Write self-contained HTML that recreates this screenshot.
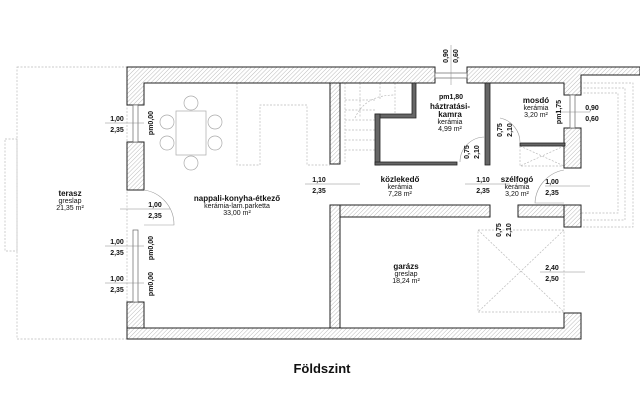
<!DOCTYPE html>
<html><head><meta charset="utf-8"><style>
body{margin:0;background:#fff}
svg{display:block}
text{font-family:"Liberation Sans",sans-serif;fill:#111}
.b{font-weight:bold;font-size:8px}
.s{font-size:7px}
.d{font-size:7px;font-weight:bold}
</style></head><body>
<svg width="640" height="407" viewBox="0 0 640 407" xmlns="http://www.w3.org/2000/svg">
<defs>
<pattern id="h" width="3" height="3" patternUnits="userSpaceOnUse" patternTransform="rotate(45)">
<rect width="3" height="3" fill="#fff"/><line x1="0" y1="0" x2="0" y2="3" stroke="#aaa" stroke-width="0.8"/>
</pattern>
</defs>
<!-- terrace dashed -->
<g fill="none" stroke="#bbb" stroke-width="0.7" stroke-dasharray="2,1.5">
<rect x="17" y="67" width="110" height="272"/>
<rect x="5" y="139" width="12" height="112"/>
<polyline points="580,83 633,83 633,227 580,227"/>
<polyline points="580,88 625,88 625,220 580,220"/>
<polyline points="580,93 618,93 618,213 580,213"/>
<rect x="566" y="143" width="0" height="0"/>
<!-- kitchen counter -->
<polyline points="237,83 237,165 260,165 260,105 307,105 307,165 330,165"/>
<!-- garage door swing -->
<rect x="478" y="230" width="86" height="82"/>
<line x1="478" y1="230" x2="564" y2="312"/><line x1="564" y1="230" x2="478" y2="312"/>
<!-- szélfogó cabinet -->
<rect x="520" y="146" width="44" height="20"/>
<line x1="520" y1="146" x2="564" y2="166"/><line x1="564" y1="146" x2="520" y2="166"/>
<!-- stairs -->
<path d="M345,83 L345,162 M345,100 L375,100 M345,110 L375,110 M345,120 L375,120 M345,130 L375,130 M345,140 L375,140 M345,150 L375,150 M360,83 L360,118 M395,83 L395,118 M380,83 L380,100"/>
<path d="M355,118 Q365,95 395,95" />
</g>
<!-- walls (hatched) -->
<g fill="url(#h)" stroke="#222" stroke-width="1">
<!-- top main -->
<path d="M127,67 L435,67 L435,83 L144,83 L144,105 L127,105 Z"/>
<path d="M467,67 L640,67 L640,75 L581,75 L581,95 L564,95 L564,83 L467,83 Z"/>
<!-- left wall -->
<rect x="127" y="142" width="17" height="48"/>
<rect x="127" y="302" width="17" height="37"/>
<!-- bottom -->
<path d="M127,328 L564,328 L564,313 L581,313 L581,339 L127,339 Z"/>
<!-- right wall -->
<rect x="564" y="128" width="17" height="40"/>
<rect x="564" y="205" width="17" height="22"/>
<!-- partition -->
<rect x="330" y="83" width="10" height="81"/>
<rect x="330" y="205" width="10" height="123"/>
<rect x="340" y="205" width="150" height="12"/>
<rect x="518" y="205" width="46" height="12"/>
</g>
<!-- window frames -->
<g fill="#fff" stroke="#666" stroke-width="0.7">
<rect x="133" y="105" width="5" height="37"/>
<rect x="133" y="230" width="5" height="72"/>
<rect x="435" y="73" width="32" height="5"/>
<rect x="570" y="95" width="5" height="33"/>
</g>
<!-- thin interior walls -->
<g fill="#555" stroke="#222" stroke-width="0.8">
<path d="M375,118 L416,118 L416,83 L412,83 L412,114 L375,114 Z" fill="#666"/>
<rect x="375" y="114" width="5" height="51" fill="#666"/>
<rect x="375" y="162" width="82" height="3" fill="#666"/>
<rect x="485" y="83" width="5" height="82" fill="#666"/>
<rect x="520" y="143" width="45" height="3" fill="#666"/>
</g>
<!-- door arcs -->
<g fill="none" stroke="#999" stroke-width="0.6">
<path d="M144,190 A35,35 0 0 1 174,225 L144,225"/>
<path d="M564,170 A35,35 0 0 0 535,203 L564,203"/>
<path d="M485,137 A25,25 0 0 0 460,162"/>
<path d="M500,118 A25,25 0 0 1 520,143"/>
</g>
<!-- dimension lines -->
<g stroke="#888" stroke-width="0.5">
<line x1="105" y1="123" x2="144" y2="123"/><line x1="105" y1="246" x2="144" y2="246"/><line x1="105" y1="283" x2="144" y2="283"/>
<line x1="120" y1="209" x2="170" y2="209"/><line x1="305" y1="184" x2="360" y2="184"/>
<line x1="465" y1="184" x2="510" y2="184"/><line x1="545" y1="186" x2="590" y2="186"/>
<line x1="555" y1="112" x2="590" y2="112"/><line x1="451" y1="45" x2="451" y2="85"/>
<line x1="540" y1="272" x2="585" y2="272"/>
</g>
<!-- labels -->
<g class="d" text-anchor="middle">
<text x="117" y="121">1,00</text><text x="117" y="132">2,35</text>
<text x="117" y="244">1,00</text><text x="117" y="255">2,35</text>
<text x="117" y="281">1,00</text><text x="117" y="292">2,35</text>
<text x="155" y="207">1,00</text><text x="155" y="218">2,35</text>
<text x="319" y="182">1,10</text><text x="319" y="193">2,35</text>
<text x="483" y="182">1,10</text><text x="483" y="193">2,35</text>
<text x="552" y="184">1,00</text><text x="552" y="195">2,35</text>
<text x="592" y="110">0,90</text><text x="592" y="121">0,60</text>
<text x="552" y="270">2,40</text><text x="552" y="281">2,50</text>
<text x="451" y="99">pm1,80</text>
</g>
<g class="d" text-anchor="middle">
<text transform="translate(153,123) rotate(-90)">pm0,00</text>
<text transform="translate(153,248) rotate(-90)">pm0,00</text>
<text transform="translate(153,284) rotate(-90)">pm0,00</text>
<text transform="translate(561,112) rotate(-90)">pm1,75</text>
<text transform="translate(448,56) rotate(-90)">0,90</text>
<text transform="translate(458,56) rotate(-90)">0,60</text>
<text transform="translate(469,152) rotate(-90)">0,75</text>
<text transform="translate(479,152) rotate(-90)">2,10</text>
<text transform="translate(502,130) rotate(-90)">0,75</text>
<text transform="translate(512,130) rotate(-90)">2,10</text>
<text transform="translate(501,230) rotate(-90)">0,75</text>
<text transform="translate(511,230) rotate(-90)">2,10</text>
</g>
<g text-anchor="middle">
<text class="b" x="70" y="196">terasz</text><text class="s" x="70" y="203">greslap</text><text class="s" x="70" y="210">21,35 m²</text>
<text class="b" x="237" y="201">nappali-konyha-étkező</text><text class="s" x="237" y="208">kerámia-lam.parketta</text><text class="s" x="237" y="215">33,00 m²</text>
<text class="b" x="450" y="109">háztratási-</text><text class="b" x="450" y="117">kamra</text><text class="s" x="450" y="124">kerámia</text><text class="s" x="450" y="131">4,99 m²</text>
<text class="b" x="536" y="103">mosdó</text><text class="s" x="536" y="110">kerámia</text><text class="s" x="536" y="117">3,20 m²</text>
<text class="b" x="400" y="182">közlekedő</text><text class="s" x="400" y="189">kerámia</text><text class="s" x="400" y="196">7,28 m²</text>
<text class="b" x="517" y="182">szélfogó</text><text class="s" x="517" y="189">kerámia</text><text class="s" x="517" y="196">3,20 m²</text>
<text class="b" x="406" y="269">garázs</text><text class="s" x="406" y="276">greslap</text><text class="s" x="406" y="283">18,24 m²</text>
<text x="322" y="373" font-size="13" font-weight="bold">Földszint</text>
</g>
<!-- dining table -->
<g fill="none" stroke="#aaa" stroke-width="0.7">
<rect x="176" y="111" width="30" height="44"/>
<circle cx="191" cy="103" r="7"/><circle cx="191" cy="163" r="7"/>
<circle cx="167" cy="122" r="7"/><circle cx="167" cy="143" r="7"/>
<circle cx="215" cy="122" r="7"/><circle cx="215" cy="143" r="7"/>
</g>
</svg>
</body></html>
